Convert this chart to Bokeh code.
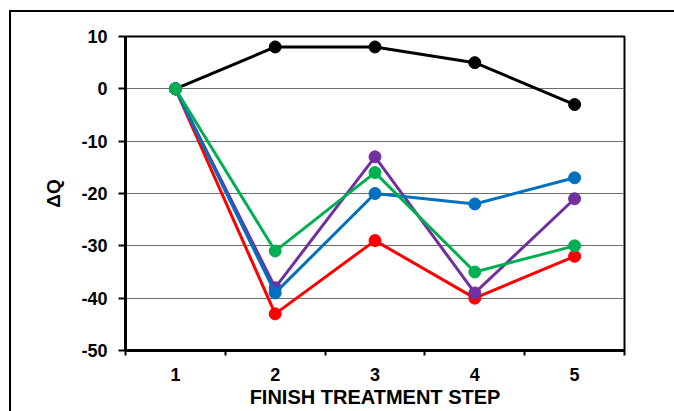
from bokeh.plotting import figure
from bokeh.models import FixedTicker, Range1d
from bokeh.embed import file_html
from bokeh.resources import INLINE

steps = [1, 2, 3, 4, 5]
step_labels = {1: "1", 2: "2", 3: "3", 4: "4", 5: "5"}
y_ticks = [-50, -40, -30, -20, -10, 0, 10]
y_labels = {-50: "-50", -40: "-40", -30: "-30", -20: "-20", -10: "-10", 0: "0", 10: "10"}

series_black = [0, 8, 8, 5, -3]
series_red = [0, -43, -29, -40, -32]
series_purple = [0, -38, -13, -39, -21]
series_blue = [0, -39, -20, -22, -17]
series_green = [0, -31, -16, -35, -30]

series = [
    (series_black, "#000000"),
    (series_red, "#FF0000"),
    (series_purple, "#7030A0"),
    (series_blue, "#0070C0"),
    (series_green, "#00B050"),
]

FONT = "Liberation Sans"

p = figure(
    frame_width=499, frame_height=314,
    min_border_left=114, min_border_right=50,
    min_border_top=24, min_border_bottom=61,
    x_range=Range1d(0.5, 5.5), y_range=Range1d(-50, 10),
    output_backend="svg", toolbar_location=None,
)
p.styles = {
    "margin-left": "9px", "margin-top": "10px",
    "border-left": "2px solid black", "border-top": "2px solid black",
    "border-right": "0px none", "border-bottom": "0px none",
    "outline": "none", "box-shadow": "none", "overflow": "hidden",
}

for vals, col in series:
    p.line(steps, vals, line_color=col, line_width=3)
    p.scatter(steps, vals, size=12, fill_color=col, line_color=col, marker="circle")

p.outline_line_color = "black"
p.outline_line_width = 2
p.background_fill_color = "white"
p.border_fill_color = "white"

# x axis
p.xaxis.ticker = FixedTicker(ticks=steps, minor_ticks=[0.5, 1.5, 2.5, 3.5, 4.5, 5.5])
p.xaxis.major_label_overrides = step_labels
p.xaxis.major_tick_out = 0
p.xaxis.major_tick_in = 0
p.xaxis.minor_tick_out = 5
p.xaxis.minor_tick_in = 0
p.xaxis.minor_tick_line_width = 2
p.xaxis.minor_tick_line_color = "black"
p.xaxis.axis_line_width = 3
p.xaxis.axis_line_color = "black"
p.xaxis.axis_label = "FINISH TREATMENT STEP"
p.xaxis.axis_label_standoff = 2
p.xaxis.major_label_standoff = 12
p.xgrid.visible = False

# y axis
p.yaxis.ticker = FixedTicker(ticks=y_ticks, minor_ticks=[])
p.yaxis.major_label_overrides = y_labels
p.yaxis.major_tick_out = 7
p.yaxis.major_tick_in = 0
p.yaxis.major_tick_line_width = 2
p.yaxis.major_tick_line_color = "black"
p.yaxis.axis_line_width = 3
p.yaxis.axis_line_color = "black"
p.yaxis.axis_label = "ΔQ"
p.yaxis.axis_label_standoff = 14
p.yaxis.major_label_standoff = 11
p.ygrid.grid_line_color = "#6e6e6e"
p.ygrid.grid_line_width = 1

for ax in (p.xaxis, p.yaxis):
    ax.major_label_text_font = FONT
    ax.major_label_text_font_style = "bold"
    ax.major_label_text_font_size = "18px"
    ax.major_label_text_color = "black"
    ax.axis_label_text_font = FONT
    ax.axis_label_text_font_style = "bold"
    ax.axis_label_text_color = "black"
p.xaxis.axis_label_text_font_size = "20px"
p.yaxis.axis_label_text_font_size = "19px"

open("out.html", "w").write(file_html(p, INLINE))
